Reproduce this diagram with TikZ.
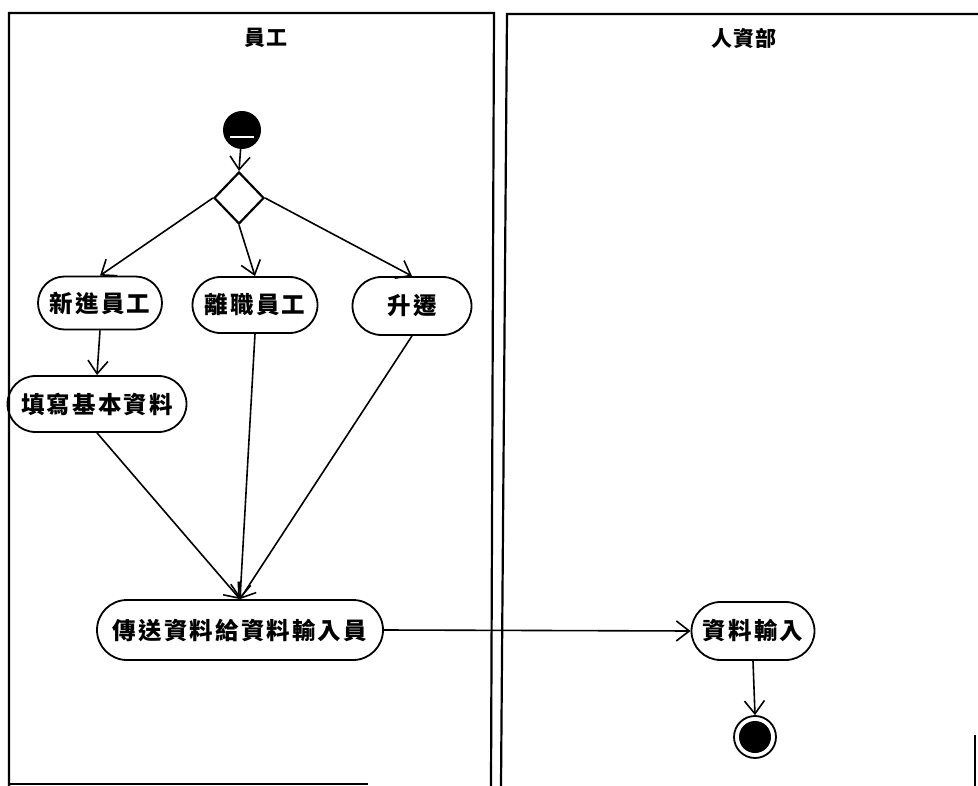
\documentclass[tikz,border=0pt]{standalone}
\usepackage{fontspec}
\newfontfamily\cjk[LetterSpace=9]{Noto Sans CJK TC}
\newfontfamily\cjktitle[LetterSpace=6]{Noto Sans CJK TC}
\usetikzlibrary{shapes.misc,shapes.geometric,arrows.meta}
\begin{document}
\begin{tikzpicture}[x=1pt,y=-1pt,
  act/.style={draw,line width=1.8pt,rounded rectangle,inner sep=0pt,font=\cjk\bfseries\fontsize{23.5}{24}\selectfont},
  flow/.style={line width=1.6pt,-{Straight Barb[length=13pt,width=20pt,line width=1.6pt]}},
  lane/.style={line width=2.2pt},
  title/.style={font=\cjktitle\bfseries\fontsize{21}{21}\selectfont},
  startnode/.style={circle,fill=black,minimum size=38pt,inner sep=0pt},
  decision/.style={diamond,draw,line width=2.2pt,minimum width=50pt,minimum height=52pt,inner sep=0pt},
  endouter/.style={circle,draw,line width=1.8pt,minimum size=42pt,inner sep=0pt},
  endinner/.style={circle,fill=black,minimum size=32pt,inner sep=0pt}]
\useasboundingbox (0,0) rectangle (978,786);
% swimlanes
\draw[lane] (9,786) -- (9,13) -- (494,13) -- (491,786);
\draw[lane] (9,784) -- (368,784);
\draw[lane] (501,786) -- (507,14) -- (978,14);
\draw[line width=1.5pt] (975,735) -- (975,786);
\node[title] (t1) at (266,38) {員工};
\node[title] (t2) at (744,38) {人資部};
% start
\node[startnode] (start) at (242,130) {};
\draw[white,line width=2pt] (230,137) -- (254,137);
\node[decision] (dec) at (239,198) {};
\draw[flow] (start) -- (dec.north);
% activities
\node[act,minimum width=124pt,minimum height=53pt] (new) at (100,303) {新進員工};
\node[act,minimum width=125pt,minimum height=56pt] (leave) at (255,305) {離職員工};
\node[act,minimum width=119pt,minimum height=58pt] (promo) at (412,306) {升遷};
\node[act,minimum width=179pt,minimum height=56pt] (fill) at (97,404) {填寫基本資料};
\node[act,minimum width=286pt,minimum height=60pt] (send) at (240,630) {傳送資料給資料輸入員};
\node[act,minimum width=123pt,minimum height=58pt] (input) at (753,631) {資料輸入};
\node[endouter] (endo) at (755,737) {};
\node[endinner] (endi) at (755,737) {};
% flows
\draw[flow] (dec.west) -- (new.north);
\draw[flow] (dec.south) -- (leave.north);
\draw[flow] (dec.east) -- (promo.north);
\draw[flow] (new.south) -- (fill.north);
\draw[flow] (fill.south) -- (send.north);
\draw[flow] (leave.south) -- (send.north);
\draw[flow] (promo.south) -- (send.north);
\draw[flow] (send.east) -- (input.west);
\draw[flow] (input.south) -- (endo.north);
\end{tikzpicture}
\end{document}
